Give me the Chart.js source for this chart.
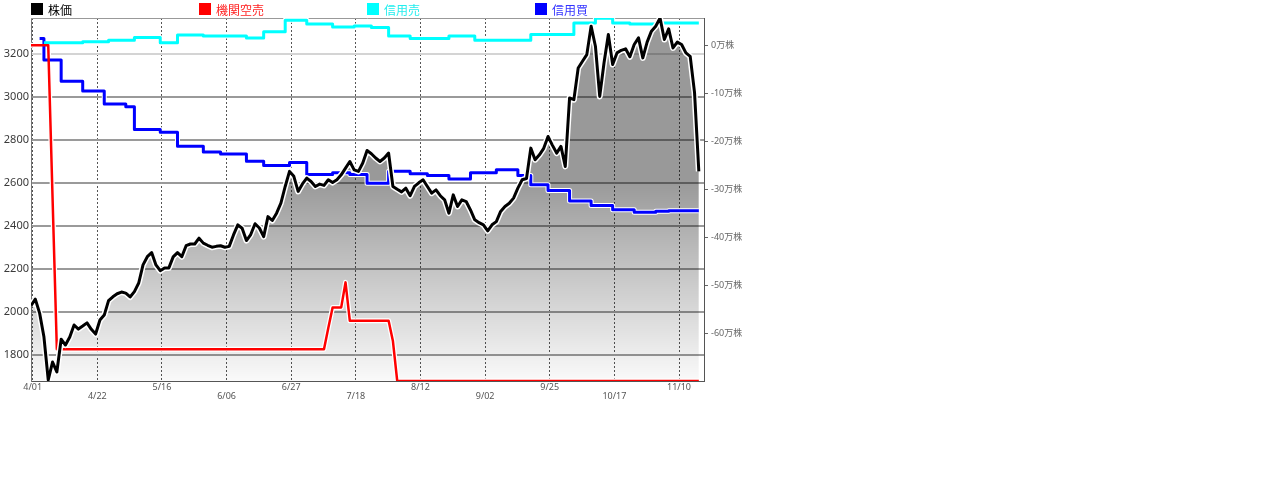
<!DOCTYPE html>
<html lang="ja">
<head>
<meta charset="utf-8">
<title>株価と信用残</title>
<script src="https://cdn.jsdelivr.net/npm/chart.js@4.4.1/dist/chart.umd.min.js"></script>
<style>
  body { margin: 0; background: #fff; font-family: "Noto Sans CJK JP", "Noto Sans", sans-serif; }
  #wrap { position: relative; width: 760px; height: 400px; }
  .lg { position: absolute; top: 3px; height: 13px; font-size: 12px; line-height: 13px; white-space: nowrap; }
  .lg i { display: inline-block; width: 12px; height: 12px; vertical-align: top; margin-right: 5px; }
</style>
</head>
<body>
<div id="wrap">
  <canvas id="mainChart" width="760" height="400"></canvas>
  <div class="lg" style="left:31px"><i style="background:#000"></i><span style="color:#000">株価</span></div>
  <div class="lg" style="left:199px"><i style="background:#f00"></i><span style="color:#f22">機関空売</span></div>
  <div class="lg" style="left:367px"><i style="background:#0ff"></i><span style="color:#2ee">信用売</span></div>
  <div class="lg" style="left:535px"><i style="background:#00f"></i><span style="color:#33f">信用買</span></div>
</div>
<script>
const ctx = document.getElementById('mainChart');

// 目盛ラベル
const tickLabels = ['4/01', '4/22', '5/16', '6/06', '6/27', '7/18', '8/12', '9/02', '9/25', '10/17', '11/10'];
const priceTicks = [1800, 2000, 2200, 2400, 2600, 2800, 3000, 3200];
const zanTicks = [-60, -50, -40, -30, -20, -10, 0];

// 株価 (日次, 156営業日)
const kabuka = [
  2030, 2060, 1995, 1885, 1685, 1768, 1722, 1874, 1847, 1884,
  1940, 1921, 1935, 1950, 1920, 1898, 1963, 1986, 2053, 2071,
  2085, 2093, 2088, 2070, 2095, 2135, 2219, 2257, 2276, 2219,
  2192, 2205, 2205, 2256, 2276, 2257, 2308, 2316, 2316, 2343,
  2320, 2310, 2301, 2305, 2308, 2301, 2305, 2358, 2405, 2389,
  2332, 2360, 2410, 2390, 2350, 2443, 2425, 2459, 2506, 2583,
  2653, 2630, 2560, 2595, 2622, 2606, 2583, 2594, 2588, 2614,
  2601, 2614, 2637, 2668, 2699, 2660, 2653, 2692, 2750, 2735,
  2715, 2699, 2715, 2738, 2583, 2570, 2558, 2575, 2540, 2583,
  2600, 2614, 2583, 2552, 2567, 2540, 2521, 2459, 2544, 2490,
  2521, 2513, 2474, 2428, 2415, 2405, 2377, 2405, 2420, 2467,
  2490, 2505, 2529, 2575, 2614, 2620, 2761, 2707, 2730, 2760,
  2815, 2775, 2738, 2769, 2676, 2994, 2986, 3133, 3164, 3195,
  3327, 3234, 3001, 3157, 3288, 3149, 3203, 3215, 3222, 3185,
  3242, 3273, 3180, 3253, 3304, 3327, 3365, 3265, 3315, 3226,
  3253, 3242, 3203, 3187, 3020, 2653
];

// 機関空売 (万株) : 営業日インデックスと値
const karauriDay = [0, 4, 6, 68, 69, 70, 72, 73, 74, 83, 84, 85, 155];
const karauriVal = [0, 0, -63.2, -63.2, -58.8, -54.5, -54.5, -49.3, -57.3, -57.3, -61.5, -69.8, -69.8];

// 信用売 (万株) : 変化した日と値
const uriDay = [3, 12, 18, 24, 30, 34, 40, 50, 54, 59, 64, 70, 75, 79, 83, 88, 97, 103, 116, 126, 131, 135, 139, 145, 155];
const uriVal = [0.5, 0.7, 1.0, 1.6, 0.5, 2.1, 1.9, 1.5, 2.8, 5.2, 4.4, 3.8, 4.0, 3.7, 1.9, 1.4, 1.9, 1.0, 2.2, 4.6, 5.6, 4.6, 4.4, 4.6, 4.6];

// 信用買 (万株)
const kaiDay = [2, 3, 7, 12, 17, 22, 24, 30, 34, 40, 44, 50, 54, 60, 64, 70, 74, 78, 83, 88, 92, 97, 102, 108, 113, 116, 120, 125, 130, 135, 140, 145, 148, 155];
const kaiVal = [1.4, -3.1, -7.5, -9.5, -12.2, -12.8, -17.5, -18.1, -21.0, -22.2, -22.6, -24.1, -25.0, -24.4, -26.9, -26.5, -26.9, -28.7, -26.2, -26.7, -27.1, -27.8, -26.5, -25.9, -27.1, -29.0, -30.2, -32.4, -33.3, -34.2, -34.7, -34.5, -34.4, -34.4];

const toPts = (days, vals) => days.map((d, k) => ({ x: d, y: vals[k] }));
const kabukaPts = kabuka.map((v, i) => ({ x: i, y: v }));
const karauriPts = toPts(karauriDay, karauriVal);
const uriPts = toPts(uriDay, uriVal);
const kaiPts = toPts(kaiDay, kaiVal);

// 塗りのグラデーション
function grayFill(c) {
  const a = c.chart.chartArea;
  if (!a) return 'rgba(0,0,0,0.4)';
  const g = c.chart.ctx.createLinearGradient(0, a.top, 0, a.bottom);
  g.addColorStop(0, 'rgba(0,0,0,0.4)');
  g.addColorStop(0.45, 'rgba(0,0,0,0.4)');
  g.addColorStop(1, 'rgba(0,0,0,0.02)');
  return g;
}

// 上の枠線
const waku = {
  id: 'waku',
  beforeDatasetsDraw(chart) {
    const { ctx: c, chartArea: a } = chart;
    c.save();
    c.strokeStyle = '#999';
    c.lineWidth = 1;
    c.beginPath();
    c.moveTo(a.left, a.top + 0.5);
    c.lineTo(a.right, a.top + 0.5);
    c.stroke();
    c.restore();
  }
};

const line = (data, color, width, axis, extra) => Object.assign({
  data, borderColor: color, borderWidth: width, yAxisID: axis,
  pointRadius: 0, fill: false, tension: 0, borderJoinStyle: 'round'
}, extra);

Chart.defaults.font.family = "'Noto Sans', 'Noto Sans CJK JP', sans-serif";

new Chart(ctx, {
  type: 'line',
  data: {
    datasets: [
      line(kabukaPts, 'rgba(0,0,0,0)', 0, 'y', { fill: 'start', backgroundColor: grayFill, order: 10 }),
      line(karauriPts, '#fff', 5, 'y1', { order: 9 }),
      line(uriPts, '#fff', 5, 'y1', { order: 9, stepped: true }),
      line(kaiPts, '#fff', 5, 'y1', { order: 9, stepped: true }),
      line(karauriPts, '#f00', 2.5, 'y1', { order: 8 }),
      line(uriPts, '#0ff', 3, 'y1', { order: 8, stepped: true }),
      line(kaiPts, '#00f', 3, 'y1', { order: 8, stepped: true }),
      line(kabukaPts, '#fff', 6, 'y', { order: 2 }),
      line(kabukaPts, '#000', 3, 'y', { order: 1 })
    ]
  },
  options: {
    responsive: false,
    animation: false,
    layout: { padding: { top: 18 } },
    plugins: { legend: { display: false }, tooltip: { enabled: false } },
    scales: {
      x: {
        type: 'linear', min: 0, max: 156.2,
        afterBuildTicks: s => { s.ticks = tickLabels.map((_, k) => ({ value: k * 15 + 0.4 })); },
        afterFit: s => { s.height = 19; },
        grid: { color: '#555', lineWidth: 1, drawTicks: false },
        border: { color: '#555', width: 1, dash: [2, 2] },
        ticks: {
          padding: 2, color: '#555', maxRotation: 0, autoSkip: false,
          font: { size: 9, lineHeight: 1 },
          callback: (v, i) => i % 2 === 0 ? tickLabels[i] : ['', tickLabels[i]]
        }
      },
      y: {
        position: 'left', min: 1680, max: 3365,
        afterBuildTicks: s => { s.ticks = priceTicks.map(v => ({ value: v })); },
        afterFit: s => { s.width = 31; },
        grid: { color: c => (c.tick && c.tick.value === 3200 ? '#d4d4d4' : '#9a9a9a'), lineWidth: 2, drawTicks: false },
        border: { color: '#777', width: 1 },
        ticks: { padding: 2, color: '#3a3a3a', font: { size: 11 }, callback: v => String(v) }
      },
      y1: {
        position: 'right', min: -69.8, max: 5.65,
        afterBuildTicks: s => { s.ticks = zanTicks.map(v => ({ value: v })); },
        afterFit: s => { s.width = 56; },
        grid: { drawOnChartArea: false, tickLength: 4, color: '#666' },
        border: { color: '#555', width: 1 },
        ticks: { padding: 3, color: '#666', font: { size: 9 }, callback: v => v + '万株' }
      }
    }
  },
  plugins: [waku]
});
</script>
</body>
</html>
